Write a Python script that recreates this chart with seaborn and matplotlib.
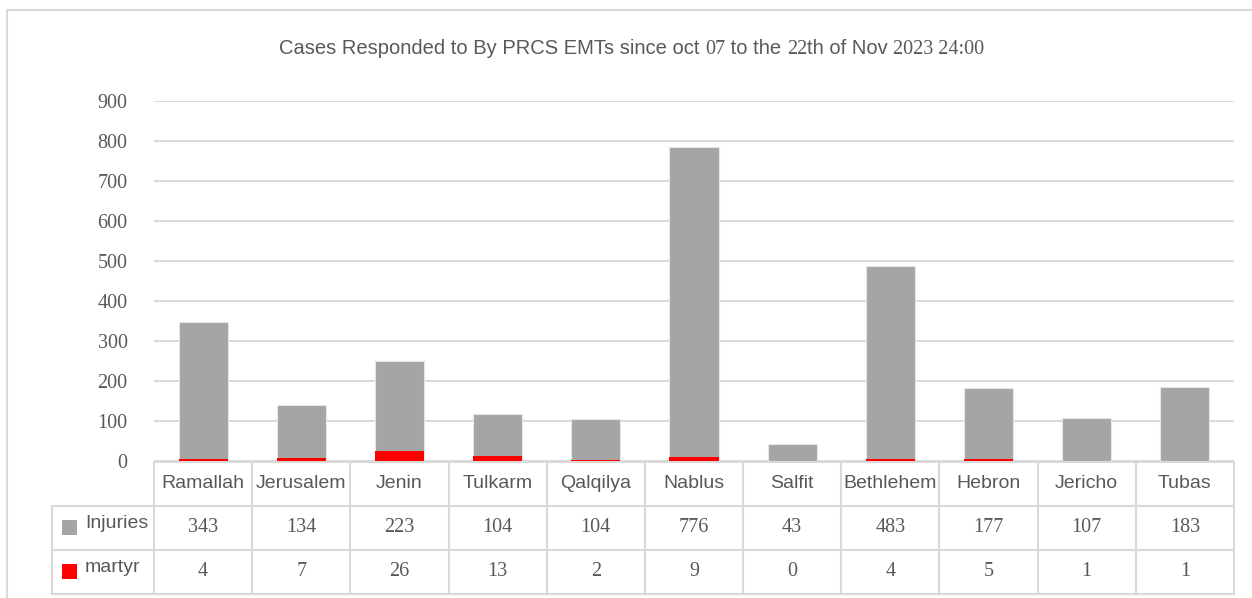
import matplotlib
matplotlib.use("Agg")
import matplotlib.pyplot as plt
import seaborn as sns
import pandas as pd
from matplotlib.patches import Rectangle

# ---- data ----
districts = ["Ramallah", "Jerusalem", "Jenin", "Tulkarm", "Qalqilya", "Nablus",
             "Salfit", "Bethlehem", "Hebron", "Jericho", "Tubas"]
injuries = [343, 134, 223, 104, 104, 776, 43, 483, 177, 107, 183]
martyr = [4, 7, 26, 13, 2, 9, 0, 4, 5, 1, 1]
series_names = ["Injuries", "martyr"]
y_ticks = [0, 100, 200, 300, 400, 500, 600, 700, 800, 900]
title_parts = [("Cases Responded to By PRCS EMTs since oct ", "sans"), ("07", "serif"),
               (" to the ", "sans"), ("22", "serif"), ("th of Nov ", "sans"),
               ("2023 24:00", "serif")]

W, H = 1252, 598
GRAY = "#A5A5A5"
RED = "#FF0000"
TXT = "#595959"
LINE = "#D9D9D9"
SANS = "Liberation Sans"
SERIF = "Liberation Serif"

sns.set_theme(style="white")
plt.rcParams["font.family"] = [SANS, "DejaVu Sans"]

fig = plt.figure(figsize=(W / 100, H / 100), dpi=100)


def fx(px):
    return px / W


def fy(py):
    return 1 - py / H


# plot area: x 154..1234, y 101 (900) .. 461 (0)
x0, x1 = 154, 1234
ax = fig.add_axes([fx(x0), fy(461), fx(x1) - fx(x0), fy(101) - fy(461)])

df = pd.DataFrame({"district": districts, "injuries": injuries, "martyr": martyr})
df["total"] = df["injuries"] + df["martyr"]

sns.barplot(data=df, x="district", y="total", color=GRAY, width=0.5, saturation=1,
            edgecolor="#E6E6E6", linewidth=0.8, ax=ax, zorder=3)
sns.barplot(data=df, x="district", y="martyr", color=RED, width=0.5, saturation=1,
            linewidth=0, ax=ax, zorder=4)

ax.set_xlim(-0.5, len(districts) - 0.5)
ax.set_ylim(0, 900)
ax.set_yticks(y_ticks)
ax.set_yticklabels([str(t) for t in y_ticks], fontfamily=SERIF, fontsize=14.5, color=TXT)
ax.set_xticks([])
ax.set_xlabel("")
ax.set_ylabel("")
ax.tick_params(axis="y", length=0, pad=19)
ax.grid(axis="y", color=LINE, linewidth=1.4, zorder=0)
ax.set_axisbelow(True)
for s in ax.spines.values():
    s.set_visible(False)
ax.set_facecolor("none")

# ---- overlay in pixel coordinates for frame, title and data table ----
ov = fig.add_axes([0, 0, 1, 1], zorder=-1)
ov.set_xlim(0, W)
ov.set_ylim(H, 0)
ov.axis("off")

# chart frame
ov.plot([7, 7, W], [H, 10, 10], color=LINE, linewidth=1.5)

# title built from sans / serif pieces
fig.canvas.draw()
renderer = fig.canvas.get_renderer()
pieces = []
for txt, kind in title_parts:
    fam = SANS if kind == "sans" else SERIF
    t = ov.text(0, 49, txt, fontfamily=fam, fontsize=14.5, color=TXT,
                ha="left", va="center")
    pieces.append(t)
widths = []
for t in pieces:
    bb = t.get_window_extent(renderer)
    widths.append(bb.width)
cur = 631.5 - sum(widths) / 2
for t, w in zip(pieces, widths):
    t.set_x(cur)
    cur += w

# table
n = len(districts)
col_w = (x1 - x0) / n
tl = 52
rows_y = [462, 506, 550, 594]
ov.plot([x0, x1], [rows_y[0], rows_y[0]], color=LINE, linewidth=1.5)
for y in rows_y[1:]:
    ov.plot([tl, x1], [y, y], color=LINE, linewidth=1.5)
ov.plot([tl, tl], [rows_y[1], rows_y[3]], color=LINE, linewidth=1.5)
for i in range(n + 1):
    xx = x0 + i * col_w
    ov.plot([xx, xx], [rows_y[0], rows_y[3]], color=LINE, linewidth=1.5)

for i, name in enumerate(districts):
    cx = x0 + (i + 0.5) * col_w
    ov.text(cx, 483, name, fontfamily=SANS, fontsize=14, color=TXT, ha="center", va="center")
    ov.text(cx, 528, str(injuries[i]), fontfamily=SERIF, fontsize=14.5, color=TXT,
            ha="center", va="center")
    ov.text(cx, 572, str(martyr[i]), fontfamily=SERIF, fontsize=14.5, color=TXT,
            ha="center", va="center")

for (label, col), yc in zip(zip(series_names, [GRAY, RED]), [527, 571]):
    ov.add_patch(Rectangle((62, yc - 7.5), 15, 15, facecolor=col, edgecolor="none"))
    ov.text(85, yc - 3, label, fontfamily=SANS, fontsize=14, color=TXT, ha="left", va="center")

fig.savefig("out.png", dpi=100)
